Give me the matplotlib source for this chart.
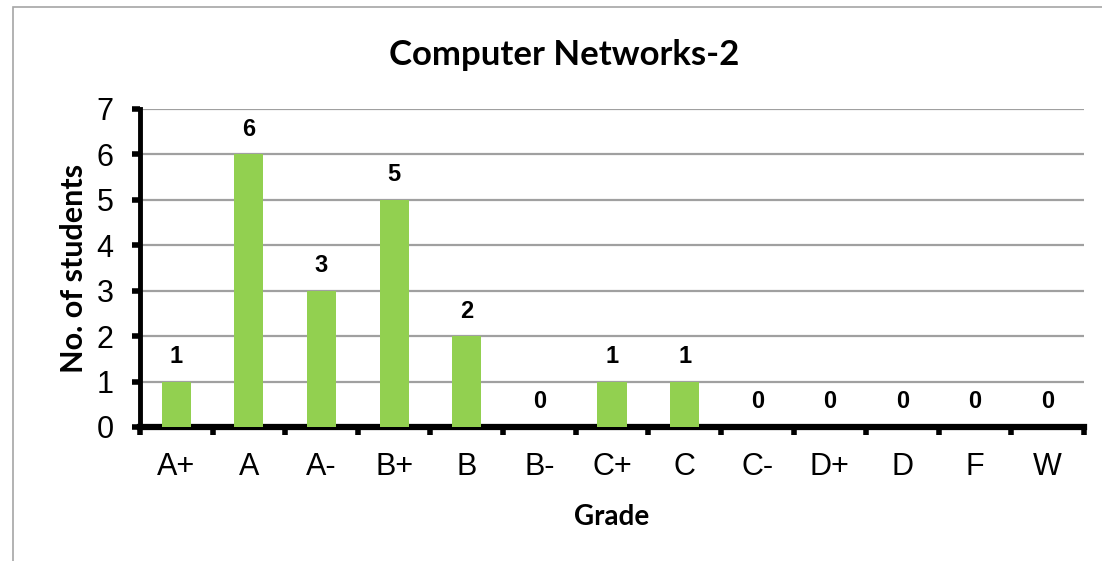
import numpy as np
import matplotlib.pyplot as plt
from matplotlib.patches import Rectangle

grades = ["A+", "A", "A-", "B+", "B", "B-", "C+", "C", "C-", "D+", "D", "F", "W"]
students = [1, 6, 3, 5, 2, 0, 1, 1, 0, 0, 0, 0, 0]

fig = plt.figure(figsize=(11.02, 5.61), dpi=100)
ax = fig.add_axes([140/1102, 1 - 427/561, (1084 - 140)/1102, (427 - 109)/561])

# chart border (grey frame, cut off on the right and bottom)
fig.patches.append(Rectangle((13/1102, -0.1), 1.2, 1 - 7/561 + 0.1, transform=fig.transFigure,
                             fill=False, edgecolor="#a6a6a6", linewidth=1.2))

x = np.arange(len(grades))
ax.bar(x, students, width=0.4, color="#92d050", zorder=3)
for xi, v in zip(x, students):
    ax.text(xi, v + 0.3, str(v), ha="center", va="bottom", fontsize=17, fontweight="bold",
            family="Liberation Sans")

ax.set_xlim(-0.5, len(grades) - 0.5)
ax.set_ylim(0, 7)
ax.set_yticks(range(8))
ax.yaxis.grid(True, color="#a0a0a0", linewidth=1.6, zorder=0)
ax.set_axisbelow(True)

ax.set_xticks(x)
ax.set_xticklabels(grades, family="Liberation Sans", fontsize=22)
ax.set_xticks(np.arange(-0.5, len(grades)), minor=True)
ax.tick_params(axis="x", which="major", length=0, pad=18)
ax.tick_params(axis="x", which="minor", length=6, width=4, direction="out")
ax.tick_params(axis="y", length=6, width=4, direction="out", labelsize=22, pad=13)
for lbl in ax.get_yticklabels():
    lbl.set_family("Liberation Sans")

for s in ["top", "right"]:
    ax.spines[s].set_visible(False)
ax.spines["left"].set_linewidth(3.5)
ax.spines["bottom"].set_linewidth(4.5)

fig.text(564/1102, 1 - 55/561, "Computer Networks-2", fontsize=25, fontweight="bold",
         family="Lato", ha="center", va="center")
ax.set_xlabel("Grade", fontsize=20, fontweight="bold", family="Lato", labelpad=16)
ax.set_ylabel("No. of students", fontsize=22, fontweight="bold", family="Lato", labelpad=6)

fig.savefig("out.png", dpi=100)
